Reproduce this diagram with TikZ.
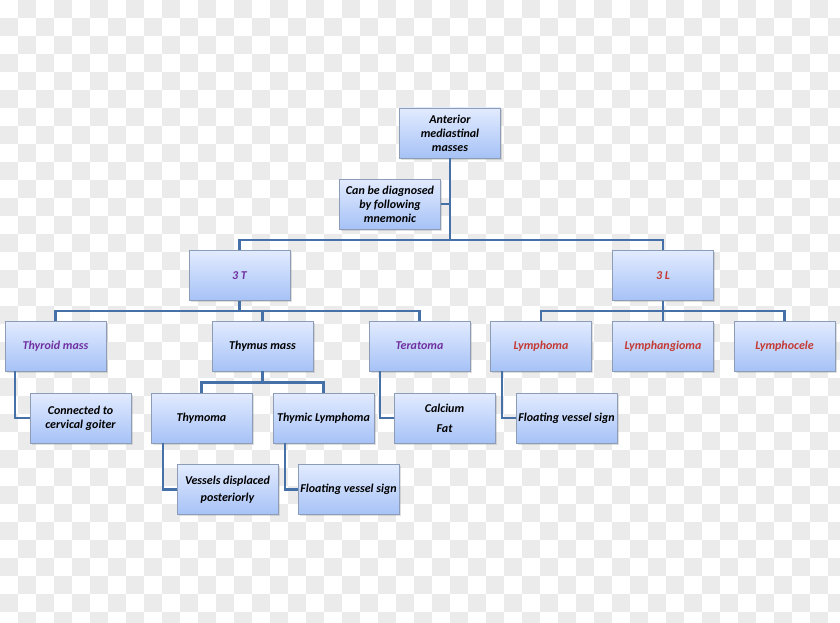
\documentclass[tikz,border=0pt]{standalone}
\usepackage{fontspec}
\setmainfont{Carlito}
\usepackage{xcolor}
\usepackage{tikz}
\usetikzlibrary{positioning, calc, shadows}

\definecolor{boxtop}{HTML}{E2EBFF}
\definecolor{boxbot}{HTML}{A6C2F6}
\definecolor{boxline}{HTML}{8D9DB8}
\definecolor{linkblue}{HTML}{4670A8}
\definecolor{tpurple}{HTML}{7030A0}
\definecolor{lred}{HTML}{C43A33}
\definecolor{checker}{HTML}{EBEBEB}

\begin{document}
\begin{tikzpicture}[
    x=1pt, y=-1pt,
    box/.style={draw=boxline, line width=0.8pt, top color=boxtop, bottom color=boxbot,
        minimum width=101pt, minimum height=50pt, inner sep=1pt, align=center,
        font=\fontsize{12}{14}\selectfont\bfseries\itshape,
        drop shadow={opacity=0.25, shadow xshift=1.5pt, shadow yshift=-1.5pt}},
    tbox/.style={box, text=tpurple},
    lbox/.style={box, text=lred},
    link/.style={draw=linkblue, line width=2.2pt}
]
    \useasboundingbox (0,0) rectangle (840,623);

    % Checker background
    \foreach \i in {0,...,46} {
        \foreach \j in {0,...,34} {
            \pgfmathtruncatemacro{\odd}{mod(\i+\j,2)}
            \ifnum\odd=1
                \fill[checker] (\i*18,\j*18) rectangle ++(18,18);
            \fi
        }
    }

    % Top levels
    \node[box] (root) at (450,133) {Anterior\\mediastinal\\masses};
    \node[box] (mnem) at (390,204) {Can be diagnosed\\by following\\mnemonic};
    \node[tbox] (t3) at (239.5,275.5) {3 T};
    \node[lbox] (l3) at (663,275.5) {3 L};

    % 3 T branch
    \node[tbox] (thyroid) at (55.5,346) {Thyroid mass};
    \node[box] (thymus) at (262.5,346) {Thymus mass};
    \node[tbox] (teratoma) at (419.5,346) {Teratoma};
    \node[box] (goiter) at (80.5,418) {Connected to\\cervical goiter};
    \node[box] (thymoma) at (201.5,418) {Thymoma};
    \node[box] (thylym) at (323.5,418) {Thymic Lymphoma};
    \node[box] (calcfat) at (444.5,418) {Calcium\\[6pt]Fat};
    \node[box] (vessels) at (227.5,489.5) {Vessels displaced\\[3pt]posteriorly};
    \node[box] (float1) at (348.5,489.5) {Floating vessel sign};

    % 3 L branch
    \node[lbox] (lymphoma) at (541,346) {Lymphoma};
    \node[lbox] (lymphang) at (663,346) {Lymphangioma};
    \node[lbox] (lymphocele) at (784.5,346) {Lymphocele};
    \node[box] (float2) at (566.5,418) {Floating vessel sign};

    % Connectors
    \coordinate (bus1) at (450,240);
    \path (t3.south) ++(0,10) coordinate (bus2);
    \path (l3.south) ++(0,10) coordinate (bus3);
    \path (thymus.south) ++(0,11) coordinate (bus4);

    \draw[link] (root.south) -- (bus1);
    \draw[link] (mnem.east) -- (mnem.east -| root.south);
    \draw[link] (t3.north) |- (bus1) -| (l3.north);
    \draw[link] (thyroid.north) |- (bus2) -| (teratoma.north);
    \draw[link] (t3.south) -- (bus2);
    \draw[link] (bus2 -| thymus.north) -- (thymus.north);
    \draw[link] (lymphoma.north) |- (bus3) -| (lymphocele.north);
    \draw[link] (l3.south) -- (lymphang.north);
    \draw[link] (thymoma.north) |- (bus4) -| (thylym.north);
    \draw[link] (thymus.south) -- (bus4);
    \draw[link] ([xshift=10pt]thyroid.south west) |- (goiter.west);
    \draw[link] ([xshift=12pt]thymoma.south west) |- (vessels.west);
    \draw[link] ([xshift=12pt]thylym.south west) |- (float1.west);
    \draw[link] ([xshift=11pt]teratoma.south west) |- (calcfat.west);
    \draw[link] ([xshift=12pt]lymphoma.south west) |- (float2.west);
\end{tikzpicture}
\end{document}
